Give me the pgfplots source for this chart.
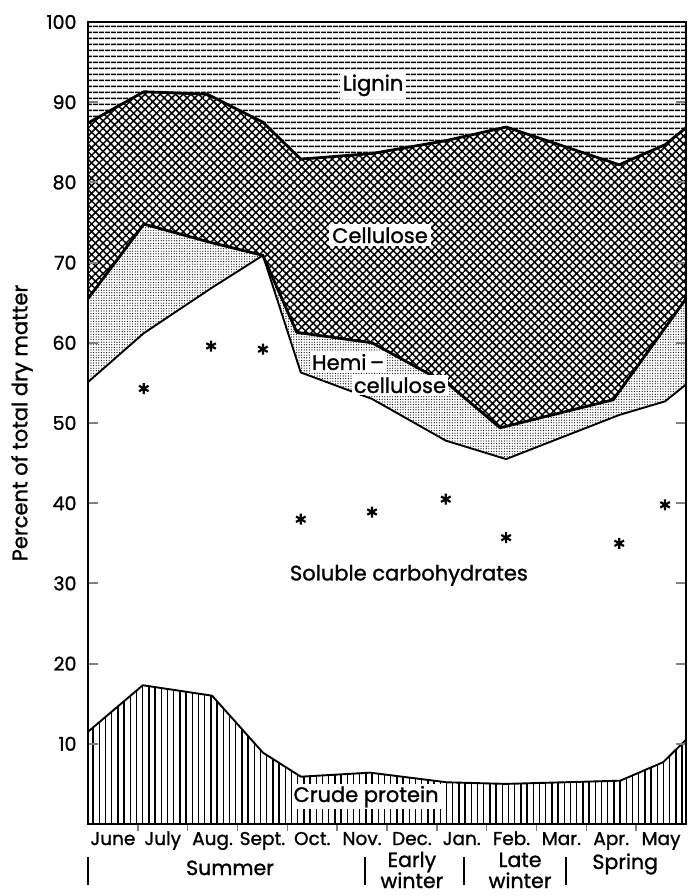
\documentclass[border=0pt]{standalone}
\usepackage{fontspec}
\setmainfont{Poppins}[FakeBold=1.2]
\usepackage{pgfplots}
\pgfplotsset{compat=1.18}
\usepackage{pgfplotstable}
\usetikzlibrary{patterns.meta}

\newcommand\tickfont{\fontsize{19bp}{22bp}\selectfont}
\newcommand\monthfont{\fontsize{18.5bp}{22bp}\selectfont}
\newcommand\labfont{\fontsize{21bp}{24bp}\selectfont}
\newcommand\seasonfont{\fontsize{20.5bp}{24bp}\selectfont}

\pgfplotstableread{
x y
0 87.4
1.12 91.3
2.39 91.0
3.51 87.5
4.27 82.9
5.70 83.6
7.18 85.2
8.39 86.9
10.66 82.2
11.58 84.7
12 86.8
}\celltop

\pgfplotstableread{
x y
0 65.5
1.12 74.8
2.47 72.5
3.51 70.9
4.19 61.3
5.70 60.0
7.26 54.7
8.27 49.4
10.54 52.9
12 65.5
}\hemitop

\pgfplotstableread{
x y
0 55.1
1.12 61.2
2.47 66.8
3.51 70.9
4.27 56.3
5.70 53.0
7.18 47.8
8.39 45.5
10.66 51.0
11.58 52.7
12 54.8
}\soltop

\pgfplotstableread{
x y
0 11.5
1.10 17.3
2.49 16.0
3.51 8.9
4.27 5.9
5.66 6.4
7.20 5.2
8.39 5.0
10.68 5.4
11.54 7.7
12 10.5
}\prottop

\pgfplotstableread{
x y
1.12 54.3
2.47 59.6
3.51 59.2
4.27 38.0
5.70 38.9
7.18 40.5
8.39 35.7
10.66 35.0
11.58 39.8
}\stars

\begin{document}
\begin{tikzpicture}
\begin{axis}[
  name=ax, at={(0,0)}, anchor=south west,
  scale only axis, width=598bp, height=802bp,
  xmin=0, xmax=12, ymin=0, ymax=100,
  axis on top, clip=false,
  axis line style={line width=2.6bp},
  tick align=inside,
  xtick={0.5,1.5,...,11.5},
  xticklabels={June,July,Aug.,Sept.,Oct.,Nov.,Dec.,Jan.,Feb.,Mar.,Apr.,May},
  major x tick style={draw=none},
  minor xtick={1,2,...,11},
  minor x tick style={line width=1.5bp, yshift=-7bp},
  minor tick length=7bp,
  xtick pos=bottom,
  ytick={10,20,...,100},
  ytick pos=both,
  major tick length=10bp,
  major y tick style={line width=2bp},
  xticklabel style={font=\monthfont, anchor=base, yshift=-21bp, inner sep=0pt},
  yticklabel style={font=\tickfont, anchor=east, xshift=-8bp},
  /pgf/number format/assume math mode=true,
  ylabel={Percent of total dry matter},
  ylabel style={font=\labfont, at={(axis description cs:-0.1104,0.5)}, anchor=center},
]
% Lignin (to 100)
\addplot[draw=none, fill=white, postaction={pattern={Lines[angle=0,distance=6bp,line width=1.8bp]}}]
  coordinates {(0,100) (12,100)} \closedcycle;
% Cellulose
\addplot[draw=none, fill=white, postaction={pattern={Hatch[angle=45,distance=5.4bp,line width=1.5bp]}}]
  table {\celltop} \closedcycle;
% Hemicellulose
\addplot[draw=none, fill=white, postaction={pattern={Dots[distance=2.6bp,radius=0.6bp]}}]
  table {\hemitop} \closedcycle;
% Soluble carbohydrates
\addplot[draw=none, fill=white] table {\soltop} \closedcycle;
% Crude protein
\addplot[draw=none, fill=white, postaction={pattern={Lines[angle=90,distance=6.2bp,line width=1.4bp]}}]
  table {\prottop} \closedcycle;
% boundary lines
\addplot[line width=2.8bp, line join=round] table {\celltop};
\addplot[line width=2.8bp, line join=round] table {\hemitop};
\addplot[line width=1.9bp, line join=round] table {\soltop};
\addplot[line width=1.9bp, line join=round] table {\prottop};
% asterisks
\addplot[only marks, mark=asterisk, mark size=5.5bp, line width=2.2bp] table {\stars};
% labels
\node[fill=white, inner sep=3bp, font=\labfont] at (axis cs:5.72,92.1) {Lignin};
\node[fill=white, inner sep=3bp, font=\labfont] at (axis cs:5.86,73.4) {Cellulose};
\node[fill=white, inner sep=2bp, font=\labfont] at (axis cs:5.22,57.6) {Hemi\,–};
\node[fill=white, inner sep=2bp, font=\labfont] at (axis cs:6.26,54.7) {cellulose};
\node[font=\labfont] at (axis cs:6.44,31.0) {Soluble carbohydrates};
\node[fill=white, inner sep=2bp, font=\labfont] at (axis cs:5.58,3.4) {Crude protein};
% seasons
\node[font=\seasonfont, anchor=base] at (axis cs:2.85,0) [yshift=-51bp] {Summer};
\node[font=\seasonfont, anchor=base] at (axis cs:6.5,0) [yshift=-43bp] {Early};
\node[font=\seasonfont, anchor=base] at (axis cs:6.5,0) [yshift=-64bp] {winter};
\node[font=\seasonfont, anchor=base] at (axis cs:8.67,0) [yshift=-43bp] {Late};
\node[font=\seasonfont, anchor=base] at (axis cs:8.67,0) [yshift=-64bp] {winter};
\node[font=\seasonfont, anchor=base] at (axis cs:10.78,0) [yshift=-45bp] {Spring};
\draw[line width=2bp] (axis cs:0,0) ++(0,-33bp) -- ++(0,-28bp);
\draw[line width=2bp] (axis cs:5.56,0) ++(0,-33bp) -- ++(0,-28bp);
\draw[line width=2bp] (axis cs:7.55,0) ++(0,-33bp) -- ++(0,-28bp);
\draw[line width=2bp] (axis cs:9.59,0) ++(0,-33bp) -- ++(0,-28bp);
\end{axis}
\pgfresetboundingbox
\path (-88bp,-72bp) rectangle (600bp,824bp);
\end{tikzpicture}
\end{document}
